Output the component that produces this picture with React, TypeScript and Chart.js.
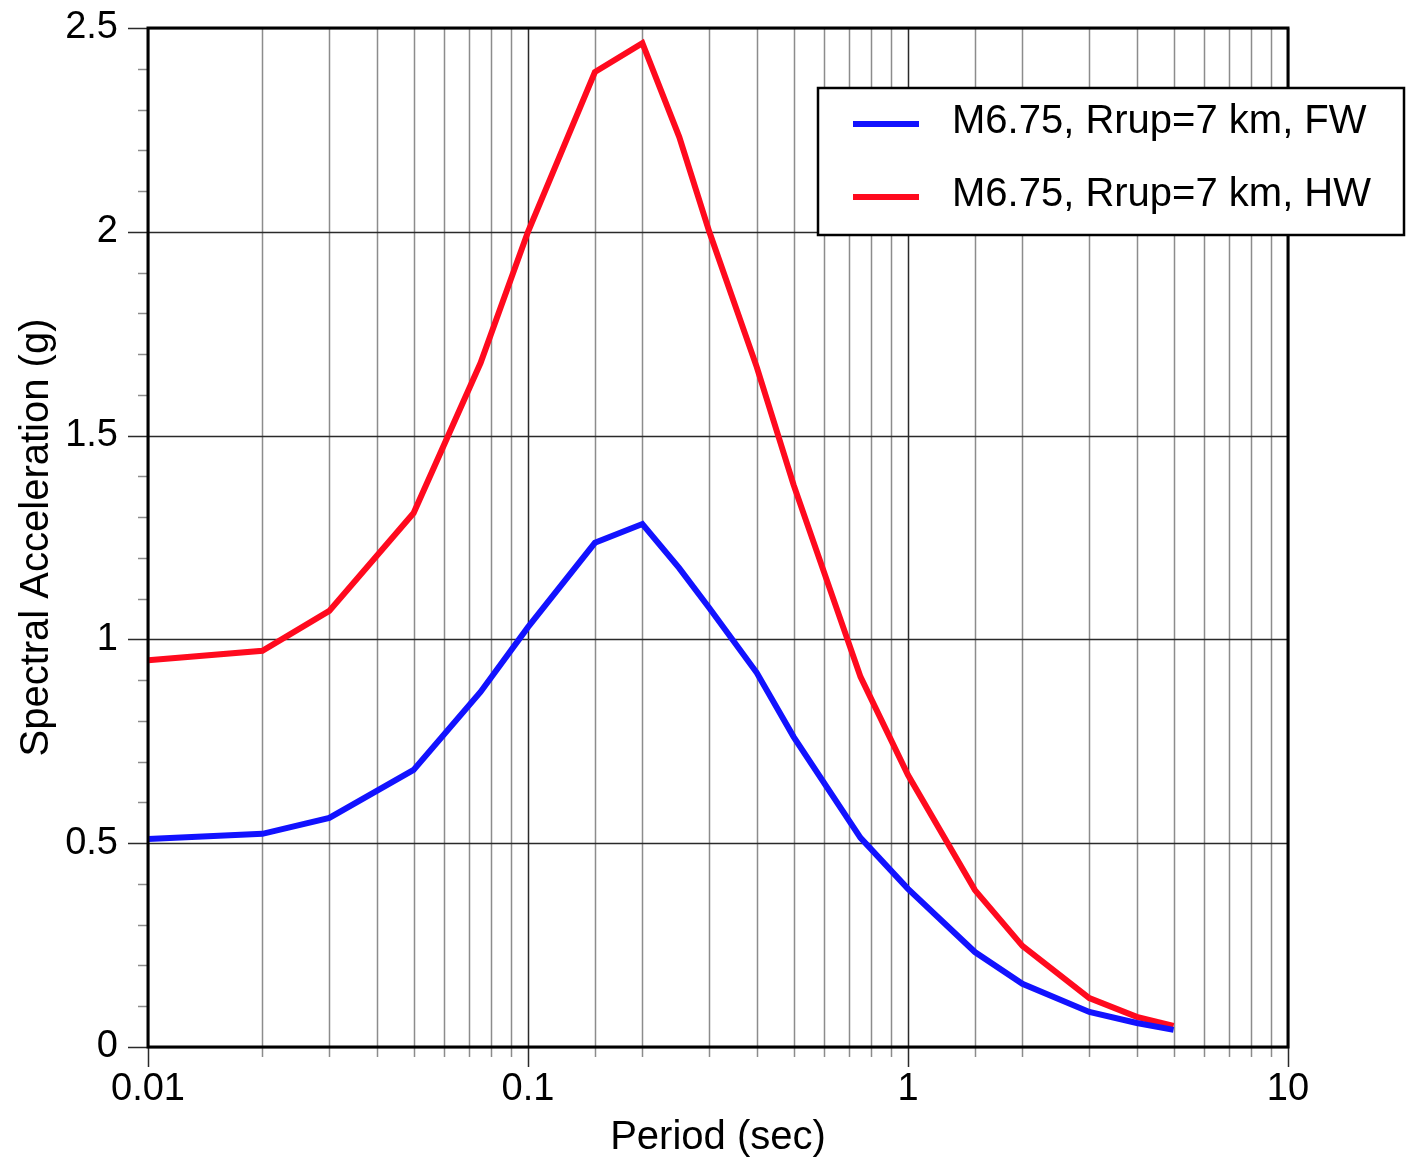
import { useEffect, useRef } from 'react';
import { Chart, registerables } from 'chart.js';

Chart.register(...registerables);

// Spectral periods (sec)
const periods = [0.01, 0.02, 0.03, 0.05, 0.075, 0.1, 0.15, 0.2, 0.25, 0.3, 0.4, 0.5, 0.75, 1, 1.5, 2, 3, 4, 5];
// Spectral acceleration (g), footwall site
const saFootwall = [0.510, 0.523, 0.562, 0.680, 0.871, 1.030, 1.237, 1.283, 1.175, 1.077, 0.918, 0.761, 0.513, 0.388, 0.233, 0.155, 0.086, 0.059, 0.042];
// Spectral acceleration (g), hanging-wall site
const saHangingwall = [0.949, 0.972, 1.070, 1.310, 1.678, 2.000, 2.392, 2.463, 2.233, 2.000, 1.668, 1.379, 0.908, 0.667, 0.385, 0.248, 0.120, 0.074, 0.052];

const seriesLabels = ['M6.75, Rrup=7 km, FW', 'M6.75, Rrup=7 km, HW'];
const seriesColors = ['#1212ff', '#ff0a1e'];

const xAxisTitle = 'Period (sec)';
const yAxisTitle = 'Spectral Acceleration (g)';
const yLabelStep = 0.5;

const FONT = "'Liberation Sans', Arial, Helvetica, sans-serif";

const isPow10 = (v: number) => Math.abs(Math.log10(v) - Math.round(Math.log10(v))) < 1e-6;
const isYMajor = (v: number) => Math.abs(v / yLabelStep - Math.round(v / yLabelStep)) < 1e-6;

// Grid lines, outside tick marks and the heavy frame around the plot area
const gridPlugin = {
  id: 'logGrid',
  beforeDatasetsDraw(chart: any) {
    const { ctx, chartArea: a, scales } = chart;
    const xs = scales.x;
    const ys = scales.y;
    ctx.save();
    ctx.lineWidth = 1.5;
    for (const t of xs.ticks) {
      const px = Math.round(xs.getPixelForValue(t.value)) + 0.5;
      const major = isPow10(t.value);
      ctx.strokeStyle = major ? '#2a2a2a' : '#8c8c8c';
      ctx.beginPath();
      ctx.moveTo(px, a.top);
      ctx.lineTo(px, a.bottom + (major ? 20 : 10));
      ctx.stroke();
    }
    for (const t of ys.ticks) {
      const py = Math.round(ys.getPixelForValue(t.value)) + 0.5;
      const major = isYMajor(t.value);
      ctx.strokeStyle = major ? '#2a2a2a' : '#8c8c8c';
      ctx.beginPath();
      if (major) {
        ctx.moveTo(a.left - 20, py);
        ctx.lineTo(a.right, py);
      } else {
        ctx.moveTo(a.left - 10, py);
        ctx.lineTo(a.left, py);
      }
      ctx.stroke();
    }
    ctx.restore();
  },
  afterDatasetsDraw(chart: any) {
    const { ctx, chartArea: a } = chart;
    ctx.save();
    ctx.strokeStyle = '#000';
    ctx.lineWidth = 3;
    ctx.strokeRect(a.left, a.top, a.right - a.left, a.bottom - a.top);
    ctx.restore();
  },
};

// Boxed legend that sits across the right edge of the plot frame
const boxLegendPlugin = {
  id: 'boxLegend',
  afterDraw(chart: any) {
    const { ctx } = chart;
    const bx = 818, by = 88, bw = 586, bh = 147;
    ctx.save();
    ctx.fillStyle = '#fff';
    ctx.fillRect(bx, by, bw, bh);
    ctx.strokeStyle = '#000';
    ctx.lineWidth = 2.5;
    ctx.strokeRect(bx, by, bw, bh);
    ctx.font = `40px ${FONT}`;
    ctx.textBaseline = 'middle';
    ctx.textAlign = 'left';
    chart.data.datasets.forEach((ds: any, i: number) => {
      const cy = 124 + i * 73;
      ctx.strokeStyle = ds.borderColor;
      ctx.lineWidth = 6;
      ctx.beginPath();
      ctx.moveTo(853, cy);
      ctx.lineTo(919, cy);
      ctx.stroke();
      ctx.fillStyle = '#000';
      ctx.fillText(ds.label, 952, cy - 2);
    });
    ctx.restore();
  },
};

export default function App() {
  const canvasRef = useRef<HTMLCanvasElement | null>(null);

  useEffect(() => {
    const canvas = canvasRef.current;
    if (!canvas) return;
    const series = [saFootwall, saHangingwall];
    const chart = new Chart(canvas, {
      type: 'line',
      data: {
        datasets: series.map((vals, i) => ({
          label: seriesLabels[i],
          data: periods.map((p, k) => ({ x: p, y: vals[k] })),
          borderColor: seriesColors[i],
          backgroundColor: seriesColors[i],
          borderWidth: 6,
          pointRadius: 0,
          tension: 0,
          fill: false,
        })),
      },
      options: {
        responsive: false,
        animation: false,
        devicePixelRatio: 1,
        layout: { padding: { left: 0, top: 28, right: 118, bottom: 0 } },
        plugins: {
          legend: { display: false },
          tooltip: { enabled: false },
        },
        scales: {
          x: {
            type: 'logarithmic',
            min: 0.01,
            max: 10,
            afterFit: (s: any) => { s.height = 113; },
            grid: { display: true, drawOnChartArea: false, drawTicks: true, tickLength: 20, color: 'rgba(0,0,0,0)' },
            border: { display: false },
            ticks: {
              autoSkip: false,
              maxRotation: 0,
              padding: 0,
              color: '#000',
              font: { family: FONT, size: 38 },
              callback: (v: any) => (isPow10(Number(v)) ? String(Number(v)) : ''),
            },
            title: {
              display: true,
              text: xAxisTitle,
              color: '#000',
              font: { family: FONT, size: 40 },
              padding: { top: 0, bottom: -2 },
            },
          },
          y: {
            type: 'linear',
            min: 0,
            max: 2.5,
            afterFit: (s: any) => { s.width = 148; },
            grid: { display: true, drawOnChartArea: false, drawTicks: true, tickLength: 30, color: 'rgba(0,0,0,0)' },
            border: { display: false },
            ticks: {
              stepSize: 0.1,
              autoSkip: false,
              padding: 0,
              color: '#000',
              font: { family: FONT, size: 38 },
              callback: (v: any) => (isYMajor(Number(v)) ? String(Math.round(Number(v) * 10) / 10) : ''),
            },
            title: {
              display: true,
              text: yAxisTitle,
              color: '#000',
              font: { family: FONT, size: 40 },
              padding: { top: 13, bottom: 0 },
            },
          },
        },
      },
      plugins: [gridPlugin, boxLegendPlugin],
    } as any);
    return () => chart.destroy();
  }, []);

  return (
    <div style={{ position: 'absolute', left: 0, top: 0, width: 1406, height: 1160, background: '#fff' }}>
      <canvas ref={canvasRef} width={1406} height={1160} />
    </div>
  );
}
